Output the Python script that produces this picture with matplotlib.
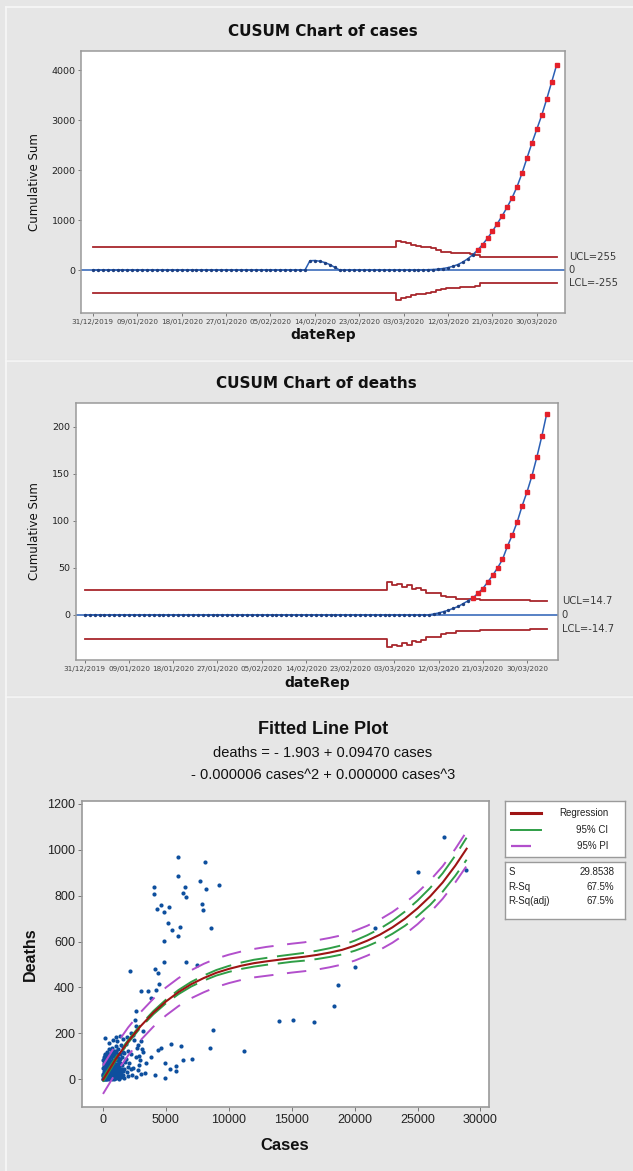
import numpy as np
import matplotlib
matplotlib.use('Agg')
import matplotlib.pyplot as plt
from matplotlib.transforms import blended_transform_factory

# ---- data ----
date_ticks = [0, 9, 18, 27, 36, 45, 54, 63, 72, 81, 90]
date_labels = ['31/12/2019', '09/01/2020', '18/01/2020', '27/01/2020', '05/02/2020',
               '14/02/2020', '23/02/2020', '03/03/2020', '12/03/2020', '21/03/2020',
               '30/03/2020']

# upper CUSUM of cases, one value per day from 31/12/2019
cases_cusum = ([0] * 44 + [185, 190, 175, 150, 110, 55] + [0] * 17 +
               [3, 6, 10, 18, 30, 48, 75, 110, 160, 225, 305, 400, 510, 635,
                775, 930, 1090, 1260, 1450, 1670, 1940, 2240, 2540, 2820, 3100,
                3420, 3760, 4100])
cases_ucl = ([460] * 62 +
             [590, 560, 540, 505, 480, 470, 460, 435, 400, 370, 355, 350, 350,
              335, 335, 330, 310] + [255] * 16)

deaths_cusum = ([0] * 71 +
                [1, 2, 3.5, 5, 7, 9, 12, 15, 18, 23, 28, 35, 42, 50, 59, 73, 85,
                 99, 116, 131, 148, 168, 190, 214])
deaths_ucl = ([26] * 62 +
              [34.5, 32, 33, 30, 32, 28, 28.5, 26.5, 23, 23, 23, 20.5, 19, 19,
               17, 17, 17, 17, 17] + [16] * 10 + [14.7] * 4)

# scatter: cases vs deaths
pts_cases = [
    5962, 8133, 5962, 7685, 4054, 6543, 8213, 9197, 4054, 6359, 6570, 4636, 5247,
    4293, 4849, 7896, 7949, 5167, 6121, 5511, 8610, 5962, 4849,
    21621, 27107, 25025, 28880,
    2120, 4849, 6570, 4157, 4372, 2996, 3577, 4240, 4425, 3842, 2650, 2518, 8744,
    131, 4636, 5432, 6174, 8478, 7075, 6359, 4902, 5829, 5300, 5773, 4108, 4902,
    3313, 3445, 2917, 3842, 3180, 4372, 7500,
    20031, 18705, 18362, 14015, 15128, 16796, 11208,
    0, 20, 60, 100, 150, 200, 260, 320, 380, 450, 520, 600, 680, 760, 850, 950,
    1050, 1150, 1300, 1450,
    30, 90, 170, 240, 330, 420, 500, 590, 700, 800, 900, 1000, 1120, 1250, 1400, 1600,
    40, 120, 210, 300, 390, 480, 560, 650, 740, 830, 920, 1020, 1130, 1240, 1350,
    1500, 1700, 1900,
    80, 180, 280, 370, 460, 560, 660, 760, 860, 960, 1080, 1200, 1320, 1480, 1650,
    1850, 2100, 2400,
    150, 300, 450, 600, 750, 900, 1050, 1200, 1400, 1600, 1800, 2000, 2250, 2600, 2900,
    500, 800, 1000, 1150, 1350, 1600, 1900, 2200, 2500, 2800, 3100,
    1700, 2000, 2300, 2600, 3000, 2800, 2200,
    2700, 3000, 2400, 2600, 3200, 2900,
    10, 70, 130, 190, 250, 350, 430, 540, 620, 710, 790, 880, 980, 1100, 1200, 1280,
    1380, 1550, 1750, 1950,
    50, 110, 220, 340, 420, 520, 700, 980, 1250, 1550,
    0, 60, 140, 230, 310, 400, 480, 570, 660, 750, 840, 930, 1030, 1140, 1260, 1370,
    25, 95, 165, 255, 345, 435, 525, 615, 705, 795, 885, 975, 1075, 1180, 1320, 1500,
    0, 75, 155, 265, 365, 470, 585, 690, 810, 940, 1060, 1180,
]
pts_deaths = [
    967, 945, 886, 864, 837, 837, 829, 847, 806, 810, 793, 759, 752,
    742, 728, 765, 738, 682, 662, 651, 658, 624, 604,
    661, 1057, 905, 912,
    473, 510, 512, 481, 465, 385, 385, 389, 415, 353, 298, 258, 215,
    179, 135, 154, 144, 135, 87, 84, 70, 58, 45, 36, 19, 4,
    26, 70, 84, 98, 120, 128, 500,
    488, 411, 319, 254, 258, 248, 123,
    0, 2, 1, 5, 0, 3, 8, 2, 6, 1, 4, 9, 3, 7, 2, 12, 5, 10, 3, 8,
    12, 18, 14, 20, 15, 22, 17, 25, 19, 28, 16, 30, 24, 20, 32, 18,
    35, 42, 38, 48, 40, 55, 45, 60, 50, 62, 47, 58, 66, 52, 70, 60, 45, 30,
    70, 78, 85, 72, 90, 80, 95, 85, 100, 88, 105, 92, 110, 98, 115, 90, 70, 50,
    110, 120, 130, 115, 135, 125, 145, 130, 150, 140, 155, 125, 110, 95, 60,
    160, 170, 185, 165, 190, 175, 185, 200, 170, 150, 130,
    5, 12, 20, 8, 25, 40, 45,
    135, 165, 195, 230, 210, 100,
    25, 8, 28, 50, 30, 60, 10, 32, 70, 40, 14, 75, 40, 45, 8, 38,
    15, 35, 75, 55,
    55, 90, 65, 100, 75, 105, 110, 115, 75, 120,
    20, 26, 33, 10, 42, 28, 36, 14, 44, 22, 34, 6, 20, 30, 48, 24,
    48, 60, 56, 64, 26, 68, 6, 52, 30, 66, 42, 56, 82, 60, 88, 45,
    85, 98, 105, 95, 110, 66, 98, 124, 80, 100, 122, 110,
]

# fitted cubic, with CI / PI half widths
fit_cases = [0, 1000, 2000, 3000, 4000, 5000, 6000, 7000, 8000, 9000, 10000,
             11000, 12000, 13000, 14000, 15000, 16000, 17000, 18000, 19000,
             20000, 21000, 22000, 23000, 24000, 25000, 26000, 27000, 28000, 28900]
fit_deaths = [-2, 87, 165, 232, 290, 339, 380, 414, 441, 464, 481, 495, 506,
              514, 521, 528, 534, 542, 552, 564, 582, 604, 630, 662, 700, 745,
              797, 858, 931, 1005]
ci_half = [9, 7, 6, 6, 7, 8, 9, 10, 11, 12, 13, 14, 15, 15, 16, 16, 17, 18, 19,
           20, 22, 24, 26, 28, 31, 34, 37, 40, 44, 48]
pi_half = [62, 61, 61, 61, 61, 61, 61, 61, 62, 62, 62, 62, 62, 63, 63, 63, 63,
           64, 64, 64, 65, 65, 66, 67, 68, 69, 70, 71, 73, 75]

stats_names = ['S', 'R-Sq', 'R-Sq(adj)']
stats_values = ['29.8538', '67.5%', '67.5%']

# ---- styling ----
W, H = 633, 1171
BG = '#e6e6e6'
BLUE = '#2a5fb5'
LIMRED = '#a8262c'
PTRED = '#e3202a'
DOT = '#0d4f9e'
REG = '#9e1414'
CI = '#2f9e46'
PI = '#b24fcc'
SPINE = '#9a9a9a'
TXT = '#222222'

fig = plt.figure(figsize=(W / 100, H / 100), dpi=100, facecolor=BG)


def rect(l, t, r, b):
    return [l / W, 1 - b / H, (r - l) / W, (b - t) / H]


def fx(x):
    return x / W


def fy(y):
    return 1 - y / H


# panel frames
for y in (361, 697):
    fig.add_artist(plt.Line2D([fx(6), 1], [fy(y - 1), fy(y - 1)], color='#d2d2d2', lw=0.8))
    fig.add_artist(plt.Line2D([fx(6), 1], [fy(y), fy(y)], color='#f7f7f7', lw=1.2))
fig.add_artist(plt.Line2D([fx(6), fx(6)], [0, fy(7)], color='#f7f7f7', lw=1.2))
fig.add_artist(plt.Line2D([fx(6), 1], [fy(7), fy(7)], color='#f7f7f7', lw=1.2))


def cusum_panel(box, title, title_y, xlabel_y, values, ucl, yticks, ylim, xlim,
                ucl_txt, lcl_txt):
    ax = fig.add_axes(rect(*box))
    ax.set_facecolor('white')
    days = np.arange(len(values))
    vals = np.array(values, dtype=float)
    lim = np.array(ucl, dtype=float)

    ax.plot(days, lim, drawstyle='steps-mid', color=LIMRED, lw=1.3)
    ax.plot(days, -lim, drawstyle='steps-mid', color=LIMRED, lw=1.3)
    ax.axhline(0, color=BLUE, lw=1.1)
    ax.plot(days, vals, color=BLUE, lw=1.1, marker='o', ms=1.4,
            mfc='#1d3f80', mec='#1d3f80')
    out = vals > lim
    ax.plot(days[out], vals[out], 's', color=PTRED, ms=2.2, ls='none')

    ax.set_xlim(*xlim)
    ax.set_ylim(*ylim)
    ax.set_xticks(date_ticks)
    ax.set_xticklabels(date_labels, fontsize=5.2, color='#444444')
    ax.set_yticks(yticks)
    ax.set_yticklabels([str(v) for v in yticks], fontsize=6.8, color=TXT)
    ax.tick_params(length=2.5, width=0.7, color='#777777', pad=1.5)
    for s in ax.spines.values():
        s.set_color(SPINE)
        s.set_linewidth(1.1)

    tr = blended_transform_factory(ax.transAxes, ax.transData)
    for yv, txt in ((lim[-1], ucl_txt), (0, '0'), (-lim[-1], lcl_txt)):
        ax.text(1.008, yv, txt, transform=tr, va='center', ha='left',
                fontsize=7.2, color='#3a3a3a')

    l, t, r, b = box
    cx = (l + r) / 2
    fig.text(fx(cx), fy(title_y), title, ha='center', va='center',
             fontsize=11, fontweight='bold', color='#111111')
    fig.text(fx(cx), fy(xlabel_y), 'dateRep', ha='center', va='center',
             fontsize=10, fontweight='bold', color='#111111')
    fig.text(fx(34), fy((t + b) / 2), 'Cumulative Sum', rotation=90,
             ha='center', va='center', fontsize=8.5, color='#111111')
    return ax


cusum_panel((81, 51, 565, 313), 'CUSUM Chart of cases', 32, 335,
            cases_cusum, cases_ucl, [0, 1000, 2000, 3000, 4000], (-860, 4380),
            (-2.4, 95.7), 'UCL=255', 'LCL=-255')
cusum_panel((75.5, 403, 558, 660), 'CUSUM Chart of deaths', 383, 683,
            deaths_cusum, deaths_ucl, [0, 50, 100, 150, 200], (-48, 225.5),
            (-1.9, 96.3), 'UCL=14.7', 'LCL=-14.7')

# ---- fitted line plot ----
ARIAL = ['Liberation Sans', 'DejaVu Sans']
NARROW = ['Liberation Sans Narrow', 'Liberation Sans', 'DejaVu Sans']

ax3 = fig.add_axes(rect(82, 801, 488.5, 1107))
ax3.set_facecolor('white')
fc = np.array(fit_cases, dtype=float)
fd = np.array(fit_deaths, dtype=float)
ci = np.array(ci_half, dtype=float)
pi = np.array(pi_half, dtype=float)

ax3.scatter(pts_cases, pts_deaths, s=9, color=DOT, linewidths=0, zorder=2)
ax3.plot(fc, fd + pi, color=PI, lw=1.4, ls=(0, (10, 7)), zorder=3)
ax3.plot(fc, fd - pi, color=PI, lw=1.4, ls=(0, (10, 7)), zorder=3)
ax3.plot(fc, fd + ci, color=CI, lw=1.4, ls=(0, (14, 5)), zorder=3)
ax3.plot(fc, fd - ci, color=CI, lw=1.4, ls=(0, (14, 5)), zorder=3)
ax3.plot(fc, fd, color=REG, lw=1.5, zorder=4)

ax3.set_xlim(-1670, 30640)
ax3.set_ylim(-121, 1213)
ax3.set_xticks([0, 5000, 10000, 15000, 20000, 25000, 30000])
ax3.set_yticks([0, 200, 400, 600, 800, 1000, 1200])
for lab in ax3.get_xticklabels() + ax3.get_yticklabels():
    lab.set_family(NARROW)
    lab.set_fontsize(9)
    lab.set_color(TXT)
ax3.tick_params(length=3, width=0.7, color='#777777', pad=2)
for s in ax3.spines.values():
    s.set_color(SPINE)
    s.set_linewidth(1.2)

fig.text(fx(323), fy(729), 'Fitted Line Plot', ha='center', va='center',
         fontsize=13, fontweight='bold', family=ARIAL, color='#111111')
fig.text(fx(323), fy(753), 'deaths = - 1.903 + 0.09470 cases', ha='center',
         va='center', fontsize=10.5, family=ARIAL, color='#111111')
fig.text(fx(323), fy(775), '- 0.000006 cases^2 + 0.000000 cases^3', ha='center',
         va='center', fontsize=10.5, family=ARIAL, color='#111111')
fig.text(fx(285), fy(1145), 'Cases', ha='center', va='center', fontsize=12,
         fontweight='bold', family=ARIAL, color='#111111')
fig.text(fx(30), fy(954), 'Deaths', rotation=90, ha='center', va='center',
         fontsize=11.5, fontweight='bold', family=ARIAL, color='#111111')

# legend box
lg = fig.add_axes(rect(505, 801, 625, 857))
lg.set_xlim(0, 1)
lg.set_ylim(0, 1)
lg.set_xticks([])
lg.set_yticks([])
for s in lg.spines.values():
    s.set_color(SPINE)
    s.set_linewidth(1.0)
for yy, name, col, lw, ls in ((0.78, 'Regression', REG, 2.2, '-'),
                              (0.48, '95% CI', CI, 1.4, '-'),
                              (0.20, '95% PI', PI, 1.6, (0, (9, 20)))):
    lg.plot([0.05, 0.30], [yy, yy], color=col, lw=lw, ls=ls)
    lg.text(0.86, yy, name, ha='right', va='center', fontsize=7,
            family=NARROW, color=TXT)

st = fig.add_axes(rect(505, 862, 625, 919))
st.set_xlim(0, 1)
st.set_ylim(0, 1)
st.set_xticks([])
st.set_yticks([])
for s in st.spines.values():
    s.set_color(SPINE)
    s.set_linewidth(1.0)
for yy, name, val in zip((0.83, 0.57, 0.32), stats_names, stats_values):
    st.text(0.03, yy, name, ha='left', va='center', fontsize=7, family=NARROW, color=TXT)
    st.text(0.91, yy, val, ha='right', va='center', fontsize=7, family=NARROW, color=TXT)

fig.savefig('out.png', dpi=100, facecolor=BG)
